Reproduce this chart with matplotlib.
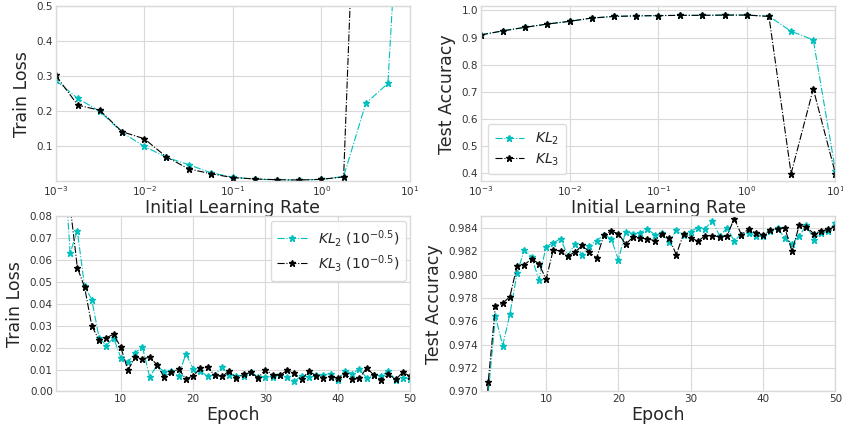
import numpy as np
import matplotlib
matplotlib.use('Agg')
from matplotlib import pyplot as plt

# learning rates: 10^-3 ... 10^1 in quarter decades
lrs = [10 ** (-3 + 0.25 * k) for k in range(17)]

# final train loss vs learning rate
loss_kl2_lr = [0.289, 0.237, 0.200, 0.140, 0.100, 0.069, 0.048, 0.025, 0.012,
               0.007, 0.004, 0.004, 0.006, 0.014, 0.223, 0.280, 1.400]
loss_kl3_lr = [0.303, 0.218, 0.203, 0.142, 0.122, 0.070, 0.036, 0.022, 0.011,
               0.007, 0.005, 0.004, 0.006, 0.013, 1.700, 2.300, 2.300]

# test accuracy vs learning rate
acc_kl2_lr = [0.910, 0.925, 0.938, 0.950, 0.960, 0.972, 0.978, 0.980, 0.981,
              0.982, 0.982, 0.983, 0.983, 0.979, 0.923, 0.892, 0.410]
acc_kl3_lr = [0.910, 0.925, 0.938, 0.950, 0.960, 0.972, 0.978, 0.980, 0.981,
              0.982, 0.982, 0.983, 0.983, 0.978, 0.399, 0.711, 0.399]

epochs = list(range(1, 51))

# train loss per epoch (lr = 10^-0.5)
loss_kl2_ep = [0.300, 0.115, 0.0632, 0.0734, 0.048, 0.042, 0.0246, 0.021, 0.0245, 0.0155,
               0.0135, 0.0178, 0.0203, 0.0066, 0.012, 0.0089, 0.0093, 0.0071, 0.0172, 0.0105,
               0.0094, 0.0069, 0.0077, 0.0111, 0.0075, 0.0071, 0.0073, 0.0087, 0.0068, 0.0065,
               0.0068, 0.0074, 0.0065, 0.0046, 0.0072, 0.0066, 0.0074, 0.0077, 0.0082, 0.0054,
               0.0095, 0.0082, 0.0103, 0.0062, 0.0077, 0.0070, 0.0095, 0.0052, 0.0063, 0.0058]
loss_kl3_ep = [0.300, 0.150, 0.085, 0.0566, 0.0477, 0.0300, 0.0235, 0.0245, 0.0262, 0.0203,
               0.0097, 0.0158, 0.0150, 0.0156, 0.0123, 0.0065, 0.0088, 0.0102, 0.0058, 0.0071,
               0.0106, 0.0110, 0.0074, 0.0069, 0.0094, 0.0063, 0.0078, 0.0087, 0.0062, 0.0100,
               0.0075, 0.0074, 0.0097, 0.0083, 0.0055, 0.0092, 0.0073, 0.0063, 0.0065, 0.0062,
               0.0080, 0.0055, 0.0060, 0.0108, 0.0075, 0.0052, 0.0080, 0.0055, 0.0088, 0.0070]

# test accuracy per epoch
acc_kl2_ep = [0.9600, 0.9698, 0.97644, 0.97392, 0.97664, 0.98016, 0.98216, 0.98153, 0.97959, 0.98242,
              0.98273, 0.98310, 0.98165, 0.98262, 0.98167, 0.98250, 0.98293, 0.98342, 0.98310, 0.98130,
              0.98371, 0.98353, 0.98362, 0.98391, 0.98345, 0.98356, 0.98282, 0.98382, 0.98342, 0.98371,
              0.98405, 0.98396, 0.98465, 0.98330, 0.98402, 0.98293, 0.98345, 0.98362, 0.98330, 0.98330,
              0.98373, 0.98402, 0.98313, 0.98268, 0.98333, 0.98425, 0.98302, 0.98359, 0.98373, 0.98445]
acc_kl3_ep = [0.9600, 0.9708, 0.97735, 0.97755, 0.97813, 0.98079, 0.98087, 0.98136, 0.98096, 0.97961,
              0.98216, 0.98202, 0.98162, 0.98193, 0.98253, 0.98193, 0.98144, 0.98345, 0.98373, 0.98353,
              0.98262, 0.98322, 0.98313, 0.98308, 0.98293, 0.98350, 0.98316, 0.98173, 0.98350, 0.98316,
              0.98288, 0.98336, 0.98336, 0.98325, 0.98330, 0.98482, 0.98345, 0.98391, 0.98362, 0.98342,
              0.98382, 0.98396, 0.98402, 0.98202, 0.98425, 0.98408, 0.98353, 0.98373, 0.98391, 0.98413]

plt.style.use('seaborn-v0_8-whitegrid')
plt.rcParams['font.family'] = ['DejaVu Sans']
plt.rcParams['mathtext.fontset'] = 'dejavusans'
plt.rcParams['axes.edgecolor'] = '0.85'
plt.rcParams['grid.color'] = '0.85'
plt.rcParams['xtick.labelsize'] = 7.5
plt.rcParams['ytick.labelsize'] = 7.5
plt.rcParams['xtick.color'] = '0.2'
plt.rcParams['ytick.color'] = '0.2'
plt.rcParams['axes.labelsize'] = 12.5
plt.rcParams['axes.labelcolor'] = '0.15'
plt.rcParams['xtick.major.pad'] = 2
plt.rcParams['ytick.major.pad'] = 2

fig, axs = plt.subplots(2, 2, figsize=(8.43, 4.26), dpi=100)
fig.subplots_adjust(left=0.066, right=0.991, bottom=0.081, top=0.985,
                    wspace=0.2, hspace=0.2)

sty = dict(linestyle='-.', linewidth=0.8, marker='*', markersize=4.5)
leg = dict(frameon=True, fontsize=10, framealpha=0.9, edgecolor='0.85',
           borderpad=0.5, labelspacing=0.3, handlelength=2.1)

ax = axs[0, 0]
ax.plot(lrs, loss_kl2_lr, color='c', **sty)
ax.plot(lrs, loss_kl3_lr, color='k', **sty)
ax.set_xscale('log')
ax.set_xlim(1e-3, 1e1)
ax.set_ylim(0, 0.5)
ax.set_yticks([0.1, 0.2, 0.3, 0.4, 0.5])
ax.set_xlabel('Initial Learning Rate', labelpad=1)
ax.set_ylabel('Train Loss', labelpad=4)
ax.minorticks_off()

ax = axs[0, 1]
ax.plot(lrs, acc_kl2_lr, color='c', label='$KL_2$', **sty)
ax.plot(lrs, acc_kl3_lr, color='k', label='$KL_3$', **sty)
ax.set_xscale('log')
ax.set_xlim(1e-3, 1e1)
ax.set_ylim(0.37, 1.015)
ax.set_yticks([0.4, 0.5, 0.6, 0.7, 0.8, 0.9, 1.0])
ax.set_xlabel('Initial Learning Rate', labelpad=1)
ax.set_ylabel('Test Accuracy', labelpad=4)
ax.minorticks_off()
ax.legend(loc='lower left', **leg)

ax = axs[1, 0]
ax.plot(epochs, loss_kl2_ep, color='c', label='$KL_2$ $(10^{-0.5})$', **sty)
ax.plot(epochs, loss_kl3_ep, color='k', label='$KL_3$ $(10^{-0.5})$', **sty)
ax.set_xlim(1, 50)
ax.set_ylim(0, 0.08)
ax.set_xticks([10, 20, 30, 40, 50])
ax.set_yticks(np.arange(0, 0.081, 0.01))
ax.yaxis.set_major_formatter(matplotlib.ticker.FormatStrFormatter('%.2f'))
ax.set_xlabel('Epoch', labelpad=1)
ax.set_ylabel('Train Loss', labelpad=4)
ax.legend(loc='upper right', borderaxespad=0.3, **leg)

ax = axs[1, 1]
ax.plot(epochs, acc_kl2_ep, color='c', **sty)
ax.plot(epochs, acc_kl3_ep, color='k', **sty)
ax.set_xlim(1, 50)
ax.set_ylim(0.970, 0.985)
ax.set_xticks([10, 20, 30, 40, 50])
ax.set_yticks(np.arange(0.970, 0.9845, 0.002))
ax.yaxis.set_major_formatter(matplotlib.ticker.FormatStrFormatter('%.3f'))
ax.set_xlabel('Epoch', labelpad=1)
ax.set_ylabel('Test Accuracy', labelpad=4)

fig.savefig('out.png', dpi=100)
